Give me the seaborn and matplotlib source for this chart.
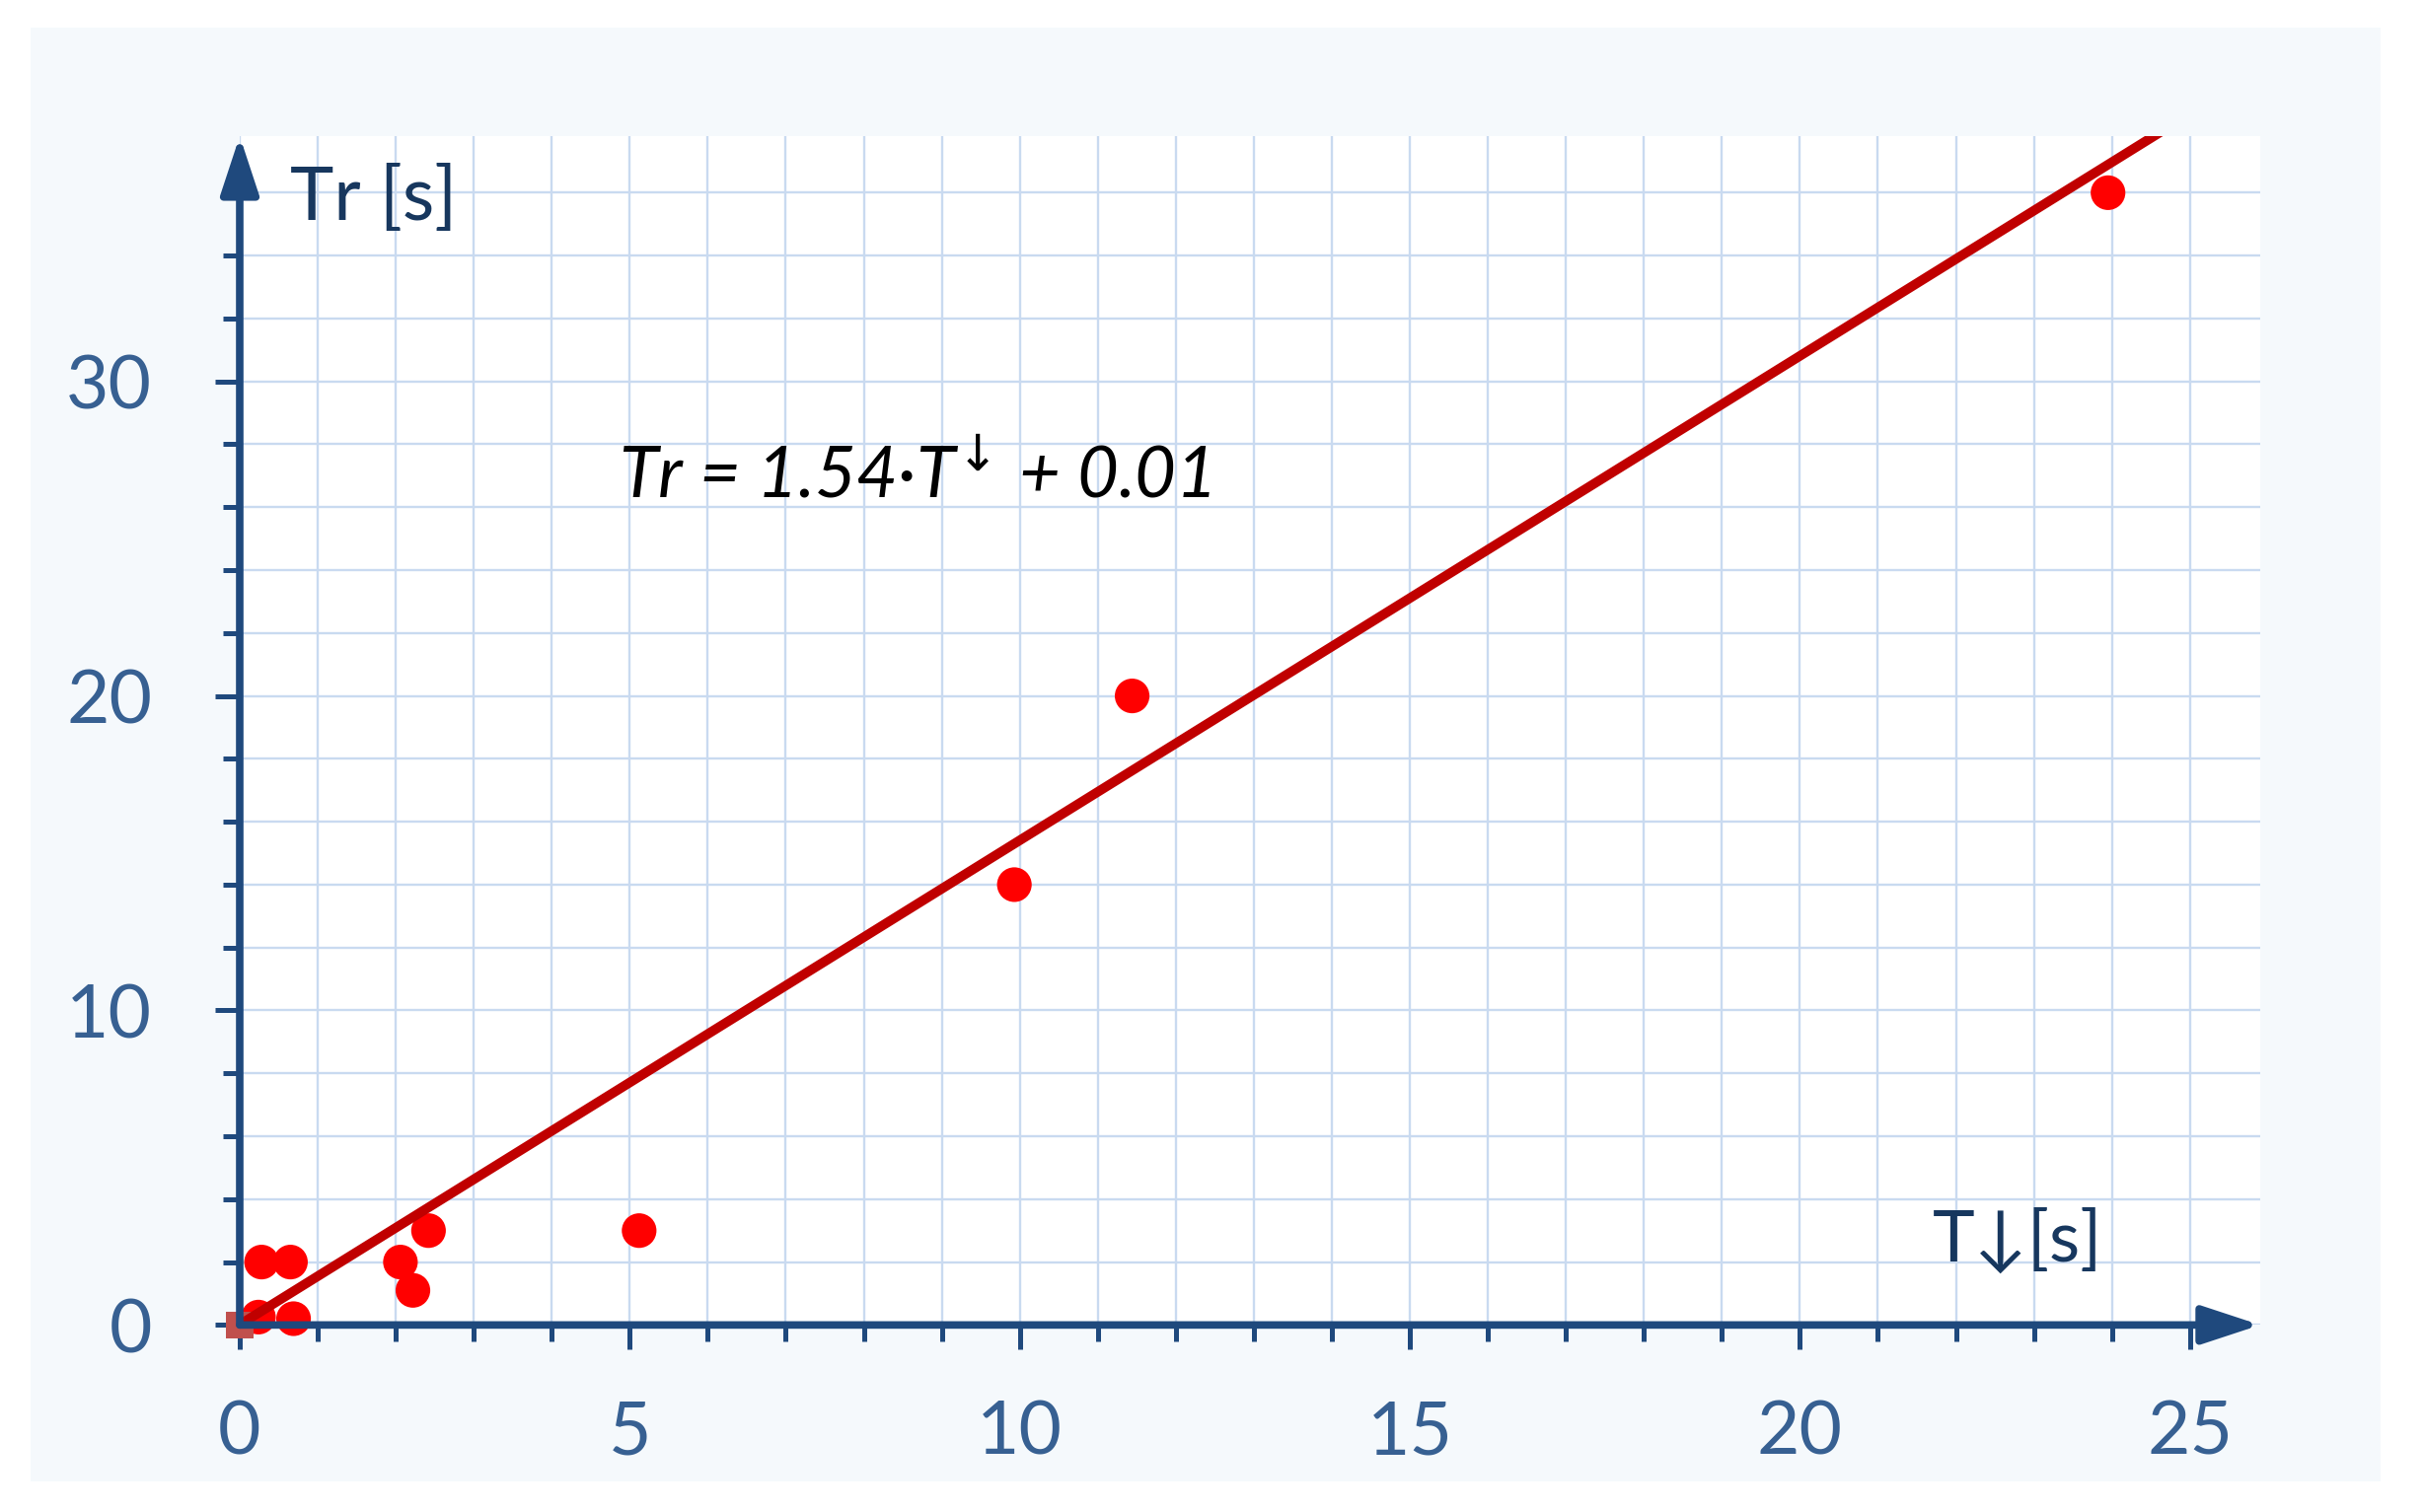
import numpy as np
import pandas as pd
import seaborn as sns
import matplotlib.pyplot as plt
from matplotlib.patches import Rectangle
from matplotlib.ticker import MultipleLocator


# 측정 데이터 (T↓, Tr)
t_down = [0.24, 0.28, 0.65, 0.69, 2.06, 2.22, 2.42, 5.12, 9.93, 11.44, 23.95]
t_r = [0.25, 2.0, 2.0, 0.2, 2.0, 1.1, 3.0, 3.0, 14.0, 20.0, 36.0]

# 원점 표시
origin_x = [0.0]
origin_y = [0.0]

# 회귀식
slope = 1.54
intercept = 0.01

x_ticks = [0, 5, 10, 15, 20, 25]
y_ticks = [0, 10, 20, 30]
x_max = 25.9
y_max = 37.8


AXIS_C = "#1f497d"
TICK_C = "#376092"
TITLE_C = "#17375e"
GRID_C = "#c9daf0"
PANEL_C = "#f5f9fc"


sns.set_theme(style="white")
plt.rcParams["font.family"] = ["Lato", "DejaVu Sans"]


fig = plt.figure(figsize=(24.57, 15.33), dpi=100, facecolor="white")
fig.patches.append(
    Rectangle((0.0128, 0.0204), 0.9692, 0.9612, transform=fig.transFigure,
              facecolor=PANEL_C, edgecolor="none", zorder=-10)
)

ax = fig.add_axes([0.0989, 0.1237, 0.8335, 0.7863])
ax.set_facecolor("white")


df = pd.DataFrame({"T": t_down, "Tr": t_r})
sns.scatterplot(data=df, x="T", y="Tr", color="#ff0000", s=640,
                edgecolor="none", ax=ax, zorder=3, clip_on=False)

sns.scatterplot(x=origin_x, y=origin_y, color="#c0504d", marker="s", s=380,
                edgecolor="none", ax=ax, zorder=4, clip_on=False)

fit_df = pd.DataFrame({"T": [0.0, x_max]})
fit_df["Tr"] = slope * fit_df["T"] + intercept
sns.lineplot(data=fit_df, x="T", y="Tr", color="#c00000", lw=7, ax=ax, zorder=5)


ax.set_xlim(0, x_max)
ax.set_ylim(0, y_max)
ax.set_xticks(x_ticks)
ax.set_yticks(y_ticks)
ax.xaxis.set_minor_locator(MultipleLocator(1))
ax.yaxis.set_minor_locator(MultipleLocator(2))

ax.grid(which="both", color=GRID_C, lw=1.7)
ax.set_axisbelow(True)

for s in ax.spines.values():
    s.set_visible(False)

ax.tick_params(axis="both", which="major", length=18, width=3.6, color=AXIS_C,
               direction="out", labelsize=54, labelcolor=TICK_C)
ax.tick_params(axis="both", which="minor", length=12, width=3.6, color=AXIS_C,
               direction="out")
ax.tick_params(axis="x", which="major", pad=36)
ax.tick_params(axis="y", which="major", pad=46)
ax.tick_params(left=True, bottom=True, which="both")

ax.set_xlabel("")
ax.set_ylabel("")
if ax.get_legend():
    ax.get_legend().remove()


# 화살표 축
arrow_kw = dict(arrowstyle="-|>,head_length=0.85,head_width=0.28", color=AXIS_C,
                lw=5.5, mutation_scale=42, shrinkA=0, shrinkB=0)
ax.annotate("", xy=(1, 0), xycoords="axes fraction", xytext=(0, 0),
            textcoords="axes fraction", arrowprops=arrow_kw,
            annotation_clip=False, zorder=6)
ax.annotate("", xy=(0, 1), xycoords="axes fraction", xytext=(0, 0),
            textcoords="axes fraction", arrowprops=arrow_kw,
            annotation_clip=False, zorder=6)


# 축 이름, 식
ax.text(0.65, 35.8, "Tr [s]", fontsize=54, color=TITLE_C, va="center", ha="left")
ax.text(21.7, 2.7, "T↓[s]", fontsize=52, color=TITLE_C, va="center", ha="left")
ax.text(4.86, 27.0, "Tr = 1.54·T$^{\\!\\downarrow}$\u2009+ 0.01", fontsize=52,
        style="italic", color="black", va="center", ha="left")


plt.savefig("out.png", dpi=100)
plt.close()
